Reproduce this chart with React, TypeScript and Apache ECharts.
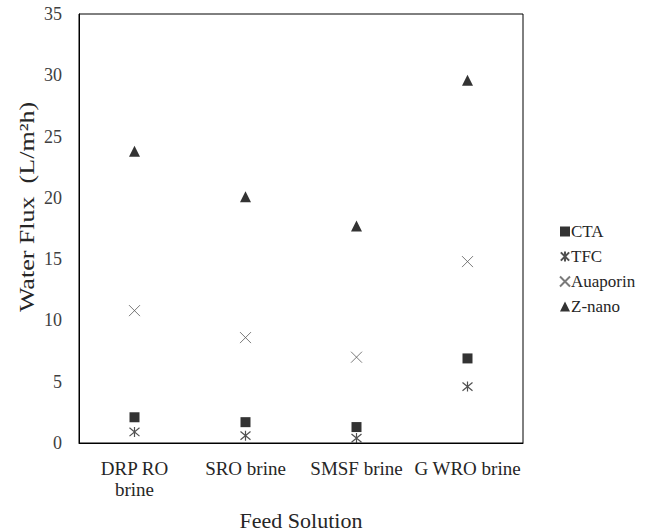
import React, { useEffect, useRef } from "react";
import * as echarts from "echarts";

const categories = ["DRP RO\nbrine", "SRO brine", "SMSF brine", "G WRO brine"];
const yTicks = { min: 0, max: 35, interval: 5 };
const seriesNames = ["CTA", "TFC", "Auaporin", "Z-nano"];
const ctaValues = [2.1, 1.7, 1.3, 6.9];
const tfcValues = [0.9, 0.6, 0.4, 4.6];
const auaporinValues = [10.8, 8.6, 7.0, 14.8];
const znanoValues = [23.8, 20.1, 17.7, 29.6];

const FONT = "Liberation Serif";

const CROSS = "path://M0,0L10,10M10,0L0,10";
const STAR = "path://M0,0L10,10M10,0L0,10M5,-1L5,11";

export default function App() {
  const ref = useRef<HTMLDivElement>(null);
  useEffect(() => {
    if (!ref.current) return;
    const chart = echarts.init(ref.current, undefined, { renderer: "svg" });
    const mk = (
      name: string,
      data: number[],
      symbol: string,
      size: number,
      style: any
    ) => ({
      name,
      type: "scatter",
      data,
      symbol,
      symbolSize: size,
      itemStyle: style,
    });
    chart.setOption({
      animation: false,
      backgroundColor: "#fff",
      textStyle: { fontFamily: FONT },
      grid: {
        left: 79,
        top: 14,
        width: 444,
        height: 429,
        show: true,
        borderColor: "#000",
        borderWidth: 1,
        backgroundColor: "transparent",
      },
      xAxis: {
        type: "category",
        data: categories,
        boundaryGap: true,
        axisLine: { lineStyle: { color: "#000", width: 1 } },
        axisTick: { show: false },
        axisLabel: {
          fontFamily: FONT,
          fontSize: 19,
          color: "#262626",
          margin: 15,
          lineHeight: 21,
          interval: 0,
        },
        splitLine: { show: false },
      },
      yAxis: {
        type: "value",
        min: yTicks.min,
        max: yTicks.max,
        interval: yTicks.interval,
        axisLine: { show: true, lineStyle: { color: "#000", width: 1 } },
        axisTick: { show: false },
        axisLabel: {
          fontFamily: FONT,
          fontSize: 18,
          color: "#404040",
          margin: 17,
        },
        splitLine: { show: false },
      },
      legend: {
        orient: "vertical",
        left: 554,
        top: 218,
        itemWidth: 10,
        itemHeight: 10,
        itemGap: 8,
        data: seriesNames,
        textStyle: { fontFamily: FONT, fontSize: 17, color: "#262626", padding: [0, 0, 0, -4] },
      },
      series: [
        mk(seriesNames[0], ctaValues, "rect", 10, { color: "#000" }),
        mk(seriesNames[1], tfcValues, STAR, 10, {
          color: "transparent",
          borderColor: "#262626",
          borderWidth: 1.2,
        }),
        mk(seriesNames[2], auaporinValues, CROSS, 11, {
          color: "transparent",
          borderColor: "#595959",
          borderWidth: 1,
        }),
        mk(seriesNames[3], znanoValues, "triangle", 11, { color: "#000" }),
      ],
      graphic: [
        {
          type: "text",
          x: 27,
          y: 207,
          rotation: Math.PI / 2,
          scaleX: 1.24,
          style: {
            text: "Water Flux  (L/m²h)",
            fontFamily: FONT,
            fontSize: 21,
            fill: "#262626",
            align: "center",
            verticalAlign: "middle",
          },
        },
        {
          type: "text",
          x: 301,
          y: 520,
          style: {
            text: "Feed Solution",
            fontFamily: FONT,
            fontSize: 22,
            fill: "#262626",
            align: "center",
            verticalAlign: "middle",
          },
        },
      ],
    });
    return () => chart.dispose();
  }, []);
  return (
    <div
      ref={ref}
      style={{ position: "fixed", left: 0, top: 0, width: 657, height: 532 }}
    />
  );
}
